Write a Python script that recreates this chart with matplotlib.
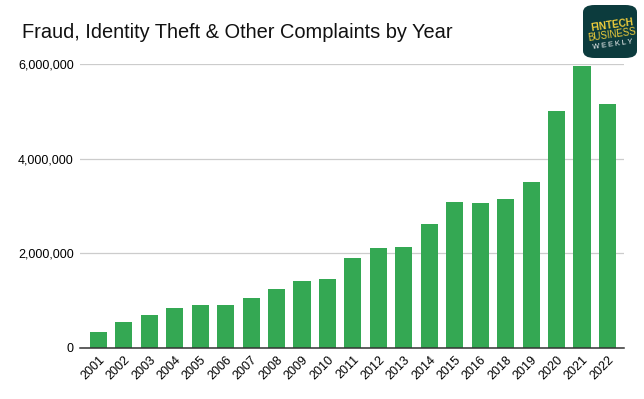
import matplotlib.pyplot as plt
from matplotlib.patches import FancyBboxPatch
from matplotlib.ticker import FuncFormatter

plt.rcParams['font.family'] = ['Liberation Sans', 'DejaVu Sans']

years = ['2001', '2002', '2003', '2004', '2005', '2006', '2007', '2008', '2009', '2010',
         '2011', '2012', '2013', '2014', '2015', '2016', '2018', '2019', '2020', '2021', '2022']
complaints = [330000, 556000, 704000, 852000, 912000, 910000, 1063000, 1253000, 1422000, 1462000,
              1905000, 2118000, 2140000, 2626000, 3090000, 3068000, 3154000, 3498000, 5013000, 5964000, 5160000]
title = 'Fraud, Identity Theft & Other Complaints by Year'

fig = plt.figure(figsize=(6.44, 3.99), dpi=100)
ax = fig.add_axes([80 / 644, 51 / 399, 544 / 644, 284 / 399])

x = range(len(years))
ax.bar(x, complaints, width=0.67, color='#34a853', zorder=3)

ax.set_ylim(0, 6000000)
ax.set_xlim(-0.72, len(years) - 0.35)
ax.set_yticks([0, 2000000, 4000000, 6000000])
ax.yaxis.set_major_formatter(FuncFormatter(lambda v, p: f'{int(v):,}'))
ax.grid(axis='y', color='#cccccc', linewidth=0.9, zorder=0)
ax.set_xticks(list(x))
ax.set_xticklabels(years, rotation=45, ha='right', rotation_mode='anchor', fontsize=9)
ax.tick_params(axis='y', length=0, labelsize=9, pad=4.5)
ax.tick_params(axis='x', length=0, pad=4)
for s in ['top', 'right', 'left']:
    ax.spines[s].set_visible(False)
ax.spines['bottom'].set_color('#333333')
ax.spines['bottom'].set_linewidth(1.1)
ax.spines['bottom'].set_zorder(4)

fig.text(22 / 644, 1 - 32 / 399, title, fontsize=14.4, color='#111111', va='center', ha='left')

# logo
logo = FancyBboxPatch((583 / 644, 1 - 58 / 399), 54 / 644, 53 / 399,
                      boxstyle='round,pad=0,rounding_size=0.018',
                      transform=fig.transFigure, facecolor='#0c3b3d', edgecolor='none')
fig.patches.append(logo)
cx = 612 / 644
fig.text(cx, 1 - 25 / 399, 'FINTECH', fontsize=7.2, fontweight='bold', color='#f2cf3b',
         ha='center', va='center', rotation=8)
fig.text(cx, 1 - 35 / 399, 'BUSINESS', fontsize=6.9, color='#f2cf3b',
         ha='center', va='center', rotation=8)
fig.text(cx + 1 / 644, 1 - 45 / 399, 'W E E K L Y', fontsize=5.3, color='#ffffff',
         ha='center', va='center', rotation=8)

fig.savefig('out.png', dpi=100)
